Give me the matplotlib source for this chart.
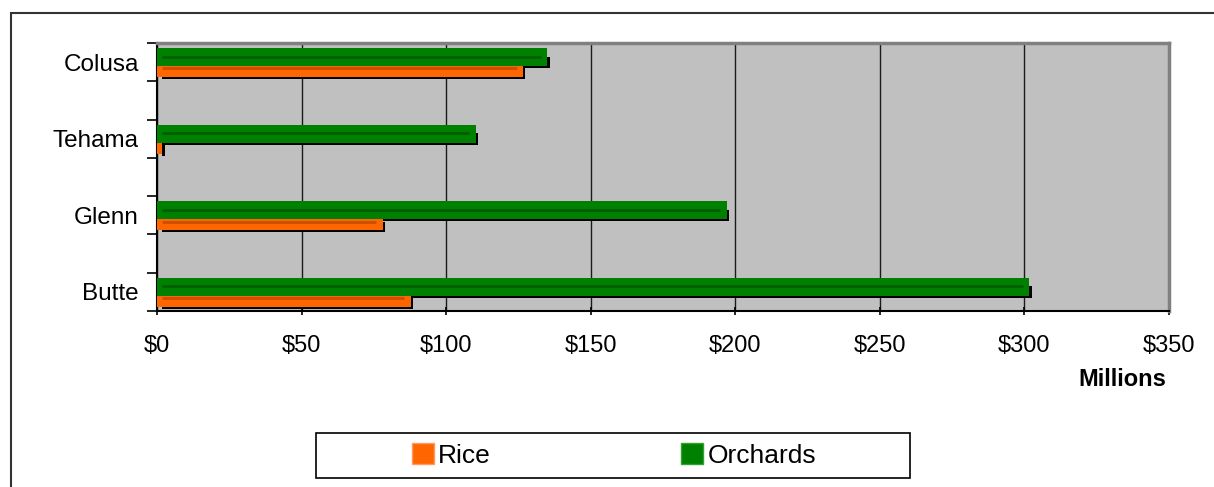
import matplotlib.pyplot as plt
from matplotlib.patches import Rectangle, Patch
import numpy as np

plt.rcParams['font.family'] = ['Liberation Sans', 'DejaVu Sans']

counties = ["Butte", "Glenn", "Tehama", "Colusa"]
rice = [87.7, 78.0, 1.8, 126.5]
orchards = [301.7, 197.0, 110.2, 135.0]
xticks = [0, 50, 100, 150, 200, 250, 300, 350]

green = "#008000"
green_dark = "#005f00"
orange = "#ff6600"
orange_dark = "#c85000"

W, H = 1214, 487
fig = plt.figure(figsize=(W / 100, H / 100), dpi=100)
# outer chart border
fig.patches.append(Rectangle((11 / W, -0.1), 1.2, 1 - 13 / H + 0.1,
                             transform=fig.transFigure, fill=False,
                             edgecolor="#333333", linewidth=1.5))
# legend box
fig.patches.append(Rectangle((316 / W, 1 - 478 / H), 594 / W, 45 / H,
                             transform=fig.transFigure, fill=False,
                             edgecolor="black", linewidth=1.2))

ax = fig.add_axes([157 / W, (H - 311) / H, 1012 / W, 268 / H])
ax.set_facecolor("#c0c0c0")

dx = 2.5 / 1012 * 350
dy = 2 / 76
sx = 4.5 / 1012 * 350


def bar3d(y_top, y_bot, y_mid, val, col, dark):
    # shadow
    ax.add_patch(Rectangle((sx, y_bot - dy), val + dx - sx, y_mid - y_bot + dy,
                           facecolor="black", edgecolor="none", zorder=3))
    ax.add_patch(Rectangle((0, y_bot), val, y_top - y_bot,
                           facecolor=col, edgecolor="none", zorder=4))
    if val > 10:
        ax.plot([sx, val - 2.5 * dx], [y_mid, y_mid], color=dark, lw=2,
                zorder=5, solid_capstyle="butt")


y = np.arange(len(counties))
for i in range(len(counties)):
    c = y[i]
    bar3d(c + 0.184, c - 0.053, c + 0.07, orchards[i], green, green_dark)
    bar3d(c - 0.053, c - 0.197, c - 0.083, rice[i], orange, orange_dark)

ax.set_xlim(0, 350)
ax.set_ylim(-0.25, 3.25)
ax.set_xticks(xticks)
ax.set_xticklabels(["$" + str(v) for v in xticks], fontsize=17)
ax.set_yticks(np.arange(-0.25, 3.26, 0.5))
ax.set_yticklabels([])
ax.set_yticks(y, minor=True)
ax.set_yticklabels(counties, minor=True, fontsize=17.5)
ax.tick_params(axis="y", which="minor", length=0, pad=13)
ax.tick_params(axis="y", which="major", length=7, width=1.2, direction="out")
ax.tick_params(axis="x", length=6, width=1.2, direction="inout", pad=14)
ax.grid(axis="x", color="#1a1a1a", linewidth=1, zorder=1)
ax.set_axisbelow(True)

for s in ["left", "bottom"]:
    ax.spines[s].set_color("black")
    ax.spines[s].set_linewidth(1.5)
for s in ["top", "right"]:
    ax.spines[s].set_color("#808080")
    ax.spines[s].set_linewidth(2.5)

fig.text(1166 / W, 1 - 380 / H, "Millions", ha="right", va="center",
         fontsize=17, fontweight="bold")

handles = [Patch(facecolor=orange, edgecolor="#ff9966"),
           Patch(facecolor=green, edgecolor="#33a033")]
leg = fig.legend(handles, ["Rice", "Orchards"], loc="center",
                 bbox_to_anchor=(614 / W, 1 - 455.5 / H), ncol=2,
                 fontsize=19, frameon=False,
                 handlelength=0.85, handleheight=0.85, handletextpad=0.15,
                 columnspacing=7.2, borderpad=0.3, borderaxespad=0)

fig.savefig("out.png", dpi=100)
